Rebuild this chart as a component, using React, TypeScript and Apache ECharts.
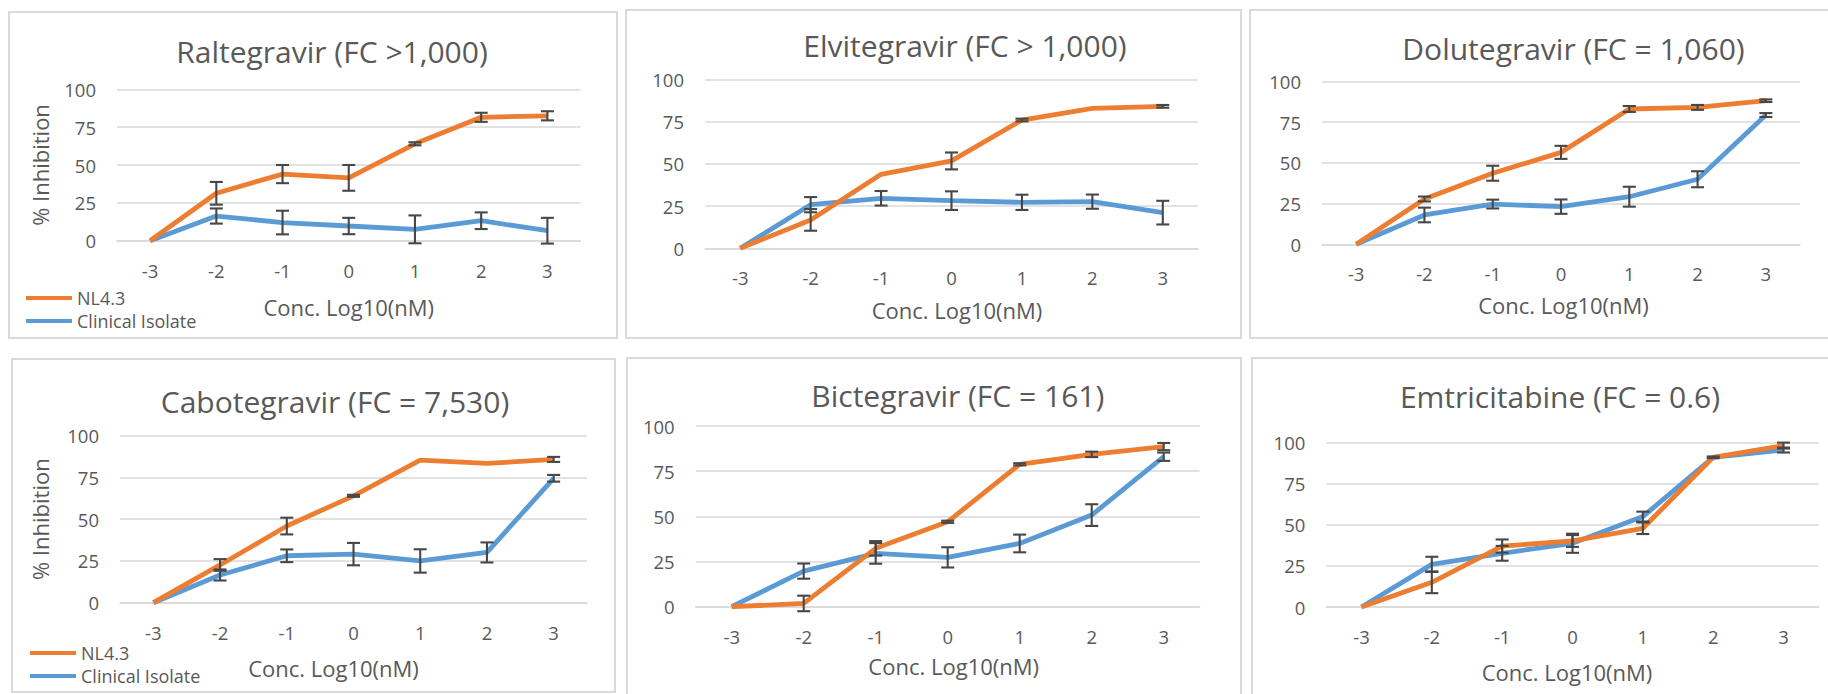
import React, { useEffect, useRef } from 'react';
import * as echarts from 'echarts';

// ---------- data ----------
const concLabels = ['-3', '-2', '-1', '0', '1', '2', '3'];
const xAxisTitle = 'Conc. Log10(nM)';
const yAxisTitle = '% Inhibition';
const seriesNames = ['NL4.3', 'Clinical Isolate'];

const panelTitles = [
  'Raltegravir (FC >1,000)',
  'Elvitegravir (FC > 1,000)',
  'Dolutegravir (FC = 1,060)',
  'Cabotegravir (FC = 7,530)',
  'Bictegravir (FC = 161)',
  'Emtricitabine (FC = 0.6)',
];

const raltNL = [0, 31.3, 44, 41.5, 64, 81.5, 82.5];
const raltNLErr = [0, 7.5, 6, 8.5, 1, 3, 3];
const raltCI = [0, 16.3, 12, 9.7, 7.5, 13.2, 6.6];
const raltCIErr = [0, 5, 7.8, 5.4, 9.2, 5.5, 8.5];

const elviNL = [0, 16.8, 43.8, 51.7, 75.9, 82.8, 84];
const elviNLErr = [0, 6.4, 0, 5, 0.8, 0, 0.8];
const elviCI = [0, 25.8, 29.6, 28.2, 27.2, 27.6, 21.1];
const elviCIErr = [0, 4.5, 4.3, 5.5, 4.5, 4.2, 7];

const doluNL = [0, 27.8, 43.6, 56.4, 83, 84, 88.1];
const doluNLErr = [0, 1.5, 4.6, 4, 1.8, 1.5, 0.8];
const doluCI = [0, 18, 24.7, 23.1, 29.2, 39.9, 79.3];
const doluCIErr = [0, 4.5, 2.7, 4.4, 6.1, 4.9, 1.2];

const caboNL = [0, 22.6, 45.9, 64, 85.4, 83.4, 85.8];
const caboNLErr = [0, 3.5, 5, 0.6, 0, 0, 1.5];
const caboCI = [0, 16.6, 28.1, 29.1, 25, 30.1, 74.5];
const caboCIErr = [0, 3.3, 3.8, 6.7, 7, 6, 2];

const bictNL = [0, 1.8, 32.3, 47, 78.8, 84.3, 88.6];
const bictNLErr = [0, 4.3, 4, 0.6, 0.6, 1.5, 2];
const bictCI = [0, 19.7, 29.5, 27.3, 35, 50.7, 83];
const bictCIErr = [0, 4.2, 5.7, 5.6, 4.9, 6, 2.3];

const emtrNL = [0, 15, 37, 40.1, 47.8, 90.9, 98];
const emtrNLErr = [0, 6.6, 4, 3.6, 3.5, 0.5, 1.8];
const emtrCI = [0, 25.9, 32.6, 38.7, 54.9, 90.9, 95.3];
const emtrCIErr = [0, 4.6, 4.5, 5.8, 3, 0, 1.5];

const nlSets = [raltNL, elviNL, doluNL, caboNL, bictNL, emtrNL];
const nlErrSets = [raltNLErr, elviNLErr, doluNLErr, caboNLErr, bictNLErr, emtrNLErr];
const ciSets = [raltCI, elviCI, doluCI, caboCI, bictCI, emtrCI];
const ciErrSets = [raltCIErr, elviCIErr, doluCIErr, caboCIErr, bictCIErr, emtrCIErr];

const yMin = 0;
const yMax = 100;
const yStep = 25;

// ---------- styling / layout ----------
const FONT = '"Open Sans", sans-serif';
const GRAY = '#595959';
const LIGHT = '#d9d9d9';
const ORANGE = '#ED7D31';
const BLUE = '#5B9BD5';
const ERR = '#474747';

const layouts = [
  { grid: { left: 117, top: 89.3, width: 463.5, height: 151.4 }, title: [332, 51.7], xNameGap: 55, xShift: 0, yNameGap: 66, box: [9, 12, 608, 326], legend: [26, 289] },
  { grid: { left: 705, top: 79.3, width: 493, height: 169 }, title: [965, 45], xNameGap: 50.7, xShift: 5.5, box: [626, 10, 615, 328] },
  { grid: { left: 1322, top: 81.3, width: 478, height: 163 }, title: [1573.5, 48.3], xNameGap: 49.7, xShift: 2.5, box: [1250, 10, 600, 328] },
  { grid: { left: 120, top: 435.7, width: 467, height: 167 }, title: [335, 401.7], xNameGap: 54.6, xShift: -20, yNameGap: 69.5, box: [12, 359, 603, 333], legend: [30, 644] },
  { grid: { left: 695.7, top: 426, width: 504, height: 180.7 }, title: [957.8, 395], xNameGap: 48, xShift: 6, box: [627, 358, 614, 360] },
  { grid: { left: 1326.3, top: 442.3, width: 492.4, height: 164.7 }, title: [1560, 396.7], xNameGap: 53.7, xShift: -5.5, box: [1252, 358, 600, 360] },
];

function errData(vals: number[], errs: number[]) {
  const out: number[][] = [];
  vals.forEach((v, i) => {
    if (errs[i] > 0) out.push([i, v - errs[i], v + errs[i]]);
  });
  return out;
}

function errorRender(params: any, api: any) {
  const idx = api.value(0);
  const lo = api.coord([idx, api.value(1)]);
  const hi = api.coord([idx, api.value(2)]);
  const hw = 6.5;
  const style = { stroke: ERR, lineWidth: 2.1, fill: null };
  return {
    type: 'group',
    children: [
      { type: 'line', shape: { x1: lo[0], y1: lo[1], x2: hi[0], y2: hi[1] }, style },
      { type: 'line', shape: { x1: lo[0] - hw, y1: lo[1], x2: lo[0] + hw, y2: lo[1] }, style },
      { type: 'line', shape: { x1: hi[0] - hw, y1: hi[1], x2: hi[0] + hw, y2: hi[1] }, style },
    ],
  };
}

function buildOption() {
  const grid: any[] = [];
  const xAxis: any[] = [];
  const yAxis: any[] = [];
  const title: any[] = [];
  const series: any[] = [];
  const legend: any[] = [];
  const graphic: any[] = [];

  layouts.forEach((L, p) => {
    grid.push({ ...L.grid, containLabel: false });
    title.push({
      text: panelTitles[p],
      left: L.title[0],
      top: L.title[1],
      textAlign: 'center',
      textVerticalAlign: 'middle',
      padding: 0,
      textStyle: { fontFamily: FONT, fontSize: 30, fontWeight: 'normal', color: GRAY },
    });
    const shift = L.xShift;
    xAxis.push({
      type: 'category',
      gridIndex: p,
      data: concLabels,
      boundaryGap: true,
      name: xAxisTitle,
      nameLocation: 'middle',
      nameGap: L.xNameGap,
      nameTextStyle: {
        fontFamily: FONT,
        fontSize: 22,
        color: GRAY,
        padding: shift >= 0 ? [0, 0, 0, shift * 2] : [0, -shift * 2, 0, 0],
      },
      axisLine: { show: true, lineStyle: { color: LIGHT, width: 1.5 } },
      axisTick: { show: false },
      axisLabel: { fontFamily: FONT, fontSize: 18.5, color: GRAY, margin: 20 },
      splitLine: { show: false },
    });
    yAxis.push({
      type: 'value',
      gridIndex: p,
      min: yMin,
      max: yMax,
      interval: yStep,
      name: L.yNameGap ? yAxisTitle : '',
      nameLocation: 'middle',
      nameGap: L.yNameGap || 0,
      nameTextStyle: { fontFamily: FONT, fontSize: 22, color: GRAY },
      axisLine: { show: false },
      axisTick: { show: false },
      axisLabel: { fontFamily: FONT, fontSize: 18.5, color: GRAY, margin: 21 },
      splitLine: { show: true, lineStyle: { color: LIGHT, width: 1.5 } },
    });
    series.push({
      type: 'line',
      name: seriesNames[1],
      xAxisIndex: p,
      yAxisIndex: p,
      data: ciSets[p],
      symbol: 'none',
      lineStyle: { color: BLUE, width: 4.8 },
      itemStyle: { color: BLUE },
      z: 2,
    });
    series.push({
      type: 'line',
      name: seriesNames[0],
      xAxisIndex: p,
      yAxisIndex: p,
      data: nlSets[p],
      symbol: 'none',
      lineStyle: { color: ORANGE, width: 4.8 },
      itemStyle: { color: ORANGE },
      z: 3,
    });
    series.push({
      type: 'custom',
      name: 'err-ci-' + p,
      xAxisIndex: p,
      yAxisIndex: p,
      data: errData(ciSets[p], ciErrSets[p]),
      encode: { x: 0, y: [1, 2] },
      renderItem: errorRender,
      z: 5,
    });
    series.push({
      type: 'custom',
      name: 'err-nl-' + p,
      xAxisIndex: p,
      yAxisIndex: p,
      data: errData(nlSets[p], nlErrSets[p]),
      encode: { x: 0, y: [1, 2] },
      renderItem: errorRender,
      z: 5,
    });
    if (L.legend) {
      legend.push({
        data: seriesNames,
        orient: 'vertical',
        left: L.legend[0],
        top: L.legend[1],
        padding: 0,
        icon: 'rect',
        itemWidth: 46,
        itemHeight: 4,
        itemGap: 5,
        selectedMode: false,
        textStyle: { fontFamily: FONT, fontSize: 18, color: GRAY },
      });
    }
    graphic.push({
      type: 'rect',
      shape: { x: L.box[0], y: L.box[1], width: L.box[2], height: L.box[3] },
      style: { fill: 'none', stroke: LIGHT, lineWidth: 2 },
      silent: true,
      z: -1,
    });
  });

  return {
    animation: false,
    backgroundColor: '#ffffff',
    textStyle: { fontFamily: FONT },
    title,
    legend,
    grid,
    xAxis,
    yAxis,
    series,
    graphic,
  };
}

export default function App() {
  const ref = useRef<HTMLDivElement>(null);
  useEffect(() => {
    if (!ref.current) return;
    const chart = echarts.init(ref.current, undefined, { renderer: 'svg' });
    chart.setOption(buildOption() as any);
    return () => chart.dispose();
  }, []);
  return (
    <div
      ref={ref}
      style={{ position: 'fixed', left: 0, top: 0, width: 1828, height: 694, background: '#fff' }}
    />
  );
}
